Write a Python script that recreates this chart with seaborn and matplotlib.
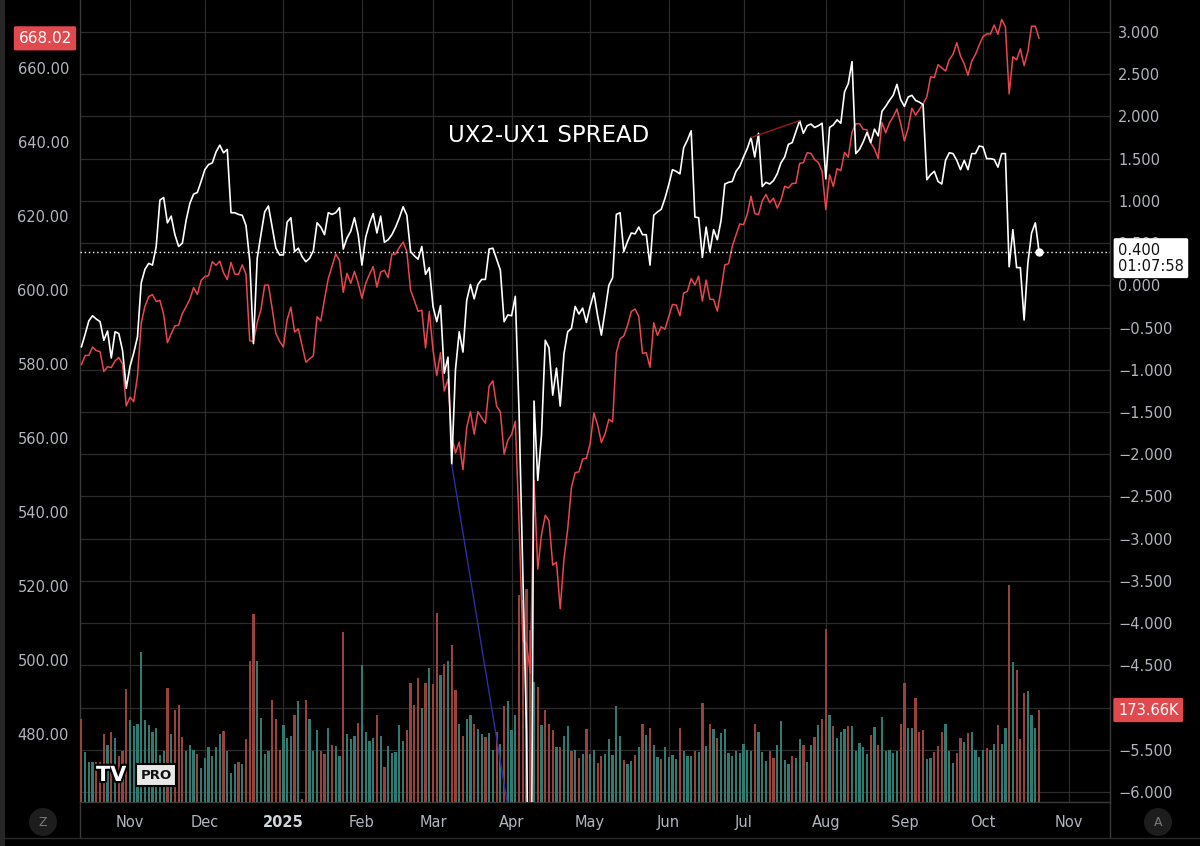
import matplotlib
matplotlib.use("Agg")
import matplotlib.pyplot as plt
from matplotlib.lines import Line2D
from matplotlib.patches import Ellipse, Rectangle
import matplotlib.patheffects as pe
import numpy as np
import pandas as pd
import seaborn as sns


# trading calendar of the spread symbol (Jan 9 2025 is a session here)
START_DATE = "2024-10-15"
LAST_DATE = "2025-10-22"
AXIS_END_DATE = "2025-11-14"
HOLIDAYS = [
    "2024-11-28", "2024-12-25", "2025-01-01", "2025-01-20", "2025-02-17",
    "2025-04-18", "2025-05-26", "2025-06-19", "2025-07-04", "2025-09-01",
]

# red overlay, left scale (NaN = no session for this symbol)
SPY_CLOSE = [
    579.78, 582.30, 582.35, 584.59, 583.63, 583.32, 577.99, 579.24, 579.04, 580.83,
    581.77, 580.01, 568.64, 571.04, 569.81, 576.70, 591.04, 595.61, 598.19, 598.76,
    596.90, 597.19, 593.35, 585.75, 588.15, 590.30, 590.50, 593.67, 595.51, 597.53,
    600.65, 598.83, 602.55, 603.63, 603.91, 607.66, 606.66, 607.81, 604.68, 602.80,
    607.46, 604.33, 604.21, 606.79, 604.29, 586.28, 586.10, 591.15, 594.69, 601.30,
    601.34, 595.01, 588.22, 586.08, 584.64, 591.95, 595.36, 588.63, 589.49, np.nan,
    580.49, 581.39, 582.19, 592.78, 591.64, 597.58, 603.05, 606.44, 609.75, 607.97,
    599.37, 604.52, 601.81, 605.04, 601.82, 597.77, 601.78, 604.22, 606.32, 600.77,
    604.85, 605.31, 603.36, 609.73, 609.70, 611.49, 612.93, 610.38, 599.94, 597.21,
    594.24, 594.54, 584.32, 594.18, 583.77, 576.86, 583.06, 572.71, 575.92, 560.58,
    555.92, 558.87, 551.42, 562.81, 567.15, 561.02, 567.13, 565.49, 563.98, 574.08,
    575.46, 568.59, 567.08, 555.66, 559.39, 560.97, 564.52, 536.70, 505.28, 504.38,
    496.48, 548.62, 524.58, 533.94, 539.12, 537.61, 525.66, 526.41, 513.88, 527.25,
    535.42, 546.69, 550.64, 550.85, 554.32, 554.54, 558.47, 566.76, 563.51, 558.80,
    561.15, 565.06, 564.34, 582.99, 586.84, 587.59, 590.46, 594.20, 594.85, 592.85,
    582.86, 583.09, 579.11, 591.15, 587.73, 590.05, 589.39, 592.71, 596.09, 595.93,
    593.05, 599.14, 599.68, 603.08, 601.36, 603.75, 597.00, 602.68, 597.53, 597.44,
    594.28, 600.15, 606.78, 607.12, 611.87, 614.91, 617.85, 617.65, 620.45, 625.34,
    620.68, 620.34, 624.06, 625.82, 623.62, 624.81, 622.14, 624.22, 628.04, 627.58,
    628.77, 628.86, 634.21, 634.42, 637.10, 636.94, 635.26, 634.46, 632.08, 621.72,
    631.17, 627.97, 632.78, 632.25, 637.18, 635.92, 642.69, 644.89, 644.95, 643.44,
    643.30, 639.81, 638.11, 635.55, 645.31, 642.47, 645.16, 646.79, 648.92, 645.05,
    640.27, 643.74, 649.12, 647.24, 648.83, 650.33, 652.21, 657.63, 657.41, 660.91,
    660.00, 659.18, 662.26, 663.70, 666.84, 663.21, 661.10, 658.05, 661.82, 663.68,
    666.18, 668.45, 669.22, 669.21, 671.61, 669.12, 673.11, 671.16, 653.02, 663.04,
    662.23, 665.17, 660.64, 664.39, 671.30, 671.29, 668.02,
]

# white main series, right scale
SPREAD = [
    -0.73, -0.58, -0.42, -0.36, -0.40, -0.43, -0.65, -0.54, -0.86, -0.55,
    -0.57, -0.77, -1.22, -0.96, -0.80, -0.61, 0.03, 0.19, 0.26, 0.24,
    0.46, 1.01, 1.04, 0.74, 0.82, 0.60, 0.46, 0.50, 0.77, 0.97,
    1.08, 1.10, 1.23, 1.37, 1.43, 1.45, 1.58, 1.66, 1.57, 1.61,
    0.86, 0.86, 0.84, 0.83, 0.71, 0.30, -0.69, 0.32, 0.60, 0.87,
    0.94, 0.69, 0.44, 0.36, 0.36, 0.75, 0.80, 0.40, 0.44, 0.34,
    0.28, 0.32, 0.41, 0.74, 0.69, 0.60, 0.86, 0.84, 0.86, 0.92,
    0.43, 0.56, 0.64, 0.80, 0.60, 0.24, 0.57, 0.73, 0.85, 0.62,
    0.82, 0.51, 0.54, 0.60, 0.69, 0.80, 0.93, 0.83, 0.40, 0.35,
    0.31, 0.46, 0.13, 0.21, -0.25, -0.43, -0.24, -1.04, -0.85, -2.12,
    -1.00, -0.55, -0.79, -0.18, 0.01, -0.16, 0.01, 0.07, 0.07, 0.43,
    0.44, 0.31, 0.18, -0.43, -0.35, -0.36, -0.13, -1.50, -3.40, -5.30,
    -9.50, -1.37, -2.31, -1.77, -0.65, -0.74, -1.30, -0.98, -1.43, -0.81,
    -0.55, -0.51, -0.25, -0.34, -0.27, -0.44, -0.25, -0.09, -0.36, -0.59,
    -0.30, 0.00, 0.09, 0.84, 0.86, 0.40, 0.52, 0.62, 0.61, 0.69,
    0.60, 0.60, 0.24, 0.83, 0.87, 0.90, 1.03, 1.19, 1.37, 1.35,
    1.32, 1.63, 1.72, 1.83, 0.81, 0.80, 0.33, 0.69, 0.40, 0.66,
    0.54, 0.77, 1.20, 1.22, 1.23, 1.35, 1.41, 1.52, 1.62, 1.75,
    1.52, 1.80, 1.17, 1.22, 1.20, 1.24, 1.32, 1.45, 1.52, 1.67,
    1.69, 1.82, 1.95, 1.80, 1.89, 1.91, 1.87, 1.89, 1.92, 1.26,
    1.87, 1.90, 1.96, 1.92, 2.29, 2.39, 2.65, 1.56, 1.61, 1.70,
    1.81, 1.69, 1.85, 1.77, 2.06, 2.12, 2.19, 2.25, 2.38, 2.20,
    2.12, 2.23, 2.25, 2.19, 2.17, 2.14, 1.25, 1.31, 1.35, 1.23,
    1.20, 1.48, 1.57, 1.56, 1.48, 1.37, 1.48, 1.37, 1.56, 1.56,
    1.65, 1.64, 1.50, 1.50, 1.49, 1.40, 1.56, 1.56, 0.22, 0.66,
    0.21, 0.21, -0.41, 0.26, 0.62, 0.74, 0.40,
]

# volume in thousands, bar side: R = down, T = up
VOLUME_K = [
    157, 94, 75, 75, 75, 75, 129, 107, 133, 120,
    87, 97, 214, 154, 143, 148, 283, 154, 145, 132,
    140, 88, 96, 216, 128, 173, 184, 123, 96, 108,
    99, 90, 65, 84, 103, 87, 104, 128, 134, 96,
    55, 72, 75, 72, 118, 267, 355, 266, 159, 90,
    96, 192, 156, 99, 145, 121, 124, 164, 191, 6,
    192, 157, 96, 135, 97, 91, 140, 107, 105, 86,
    320, 128, 118, 124, 150, 259, 133, 116, 120, 164,
    124, 66, 106, 92, 94, 146, 115, 135, 225, 184,
    235, 177, 225, 253, 222, 357, 239, 260, 266, 296,
    211, 148, 124, 157, 165, 148, 138, 128, 123, 130,
    99, 132, 109, 181, 190, 135, 164, 390, 381, 402,
    324, 226, 217, 145, 173, 148, 136, 104, 104, 125,
    143, 97, 99, 84, 91, 137, 91, 99, 74, 86,
    91, 118, 88, 181, 125, 79, 72, 77, 88, 104,
    147, 126, 140, 108, 85, 81, 104, 85, 88, 82,
    139, 97, 86, 87, 96, 94, 186, 106, 147, 138,
    121, 130, 137, 92, 86, 96, 92, 110, 99, 97,
    148, 133, 94, 78, 96, 84, 108, 152, 80, 71,
    87, 84, 118, 107, 75, 107, 123, 146, 156, 327,
    165, 143, 120, 133, 138, 143, 143, 97, 111, 103,
    91, 126, 142, 107, 161, 96, 99, 93, 96, 147,
    225, 139, 140, 196, 133, 135, 81, 84, 94, 105,
    133, 148, 97, 73, 93, 120, 114, 130, 133, 99,
    85, 99, 101, 99, 110, 146, 109, 140, 409, 264,
    250, 118, 206, 210, 165, 140, 173.66,
]
VOLUME_SIDE = list(
    "RTTTRRRTRT" "RRRTTTTTTT" "TTTRTRRRTT" "TRTTTTTTRT" "TTRTRRRTTT"
    "TRRRTTTRTR" "RTTTRRTRTT" "RTTTRTTTTR" "TRTTTTTRRR" "RTRTRRTRTR"
    "RTRTTRTTRT" "TRTRTTTRRR" "RTRTRRRTRT" "TRTRTRTTRR" "TTTTTRTTRT"
    "RTRTTRTTTT" "RTTTRTRTRT" "RTTTTTTTTT" "RTTTRRTTTT" "RTTRTTRTRR"
    "TRTTTRTTTT" "TRTRTTTTTR" "RTTRRRTTRR" "RTTTRRTRTT" "TTRTTRTTRT"
    "RRRTTTR"
)

SPREAD_TICKS = np.arange(-6.0, 3.01, 0.5)
SPY_TICKS = np.arange(480, 661, 20)
TITLE = "UX2-UX1 SPREAD"
COUNTDOWN = "01:07:58"

BG = "#000000"
GRID = "#2c2c2c"
SPINE = "#3a3a3a"
TICK = "#b2b5be"
RED_LINE = "#e8474e"
RED_TAG = "#e04a4f"
VOL_DOWN = "#98423b"
VOL_UP = "#2f7b71"

sns.set_theme(style="dark")
plt.rcParams["font.family"] = ["DejaVu Sans"]
plt.rcParams["axes.unicode_minus"] = False

dates = pd.bdate_range(START_DATE, AXIS_END_DATE, freq="C", holidays=HOLIDAYS)
n = len(SPREAD)
assert dates[n - 1] == pd.Timestamp(LAST_DATE)
months = dates.to_period("M")
month_pos = [i for i in range(1, len(dates)) if months[i] != months[i - 1]]
month_lab = [dates[i].strftime("%b") if dates[i].month != 1 else str(dates[i].year)
             for i in month_pos]

df = pd.DataFrame({
    "idx": np.arange(n),
    "spy": SPY_CLOSE,
    "spread": SPREAD,
    "vol": VOLUME_K,
    "side": VOLUME_SIDE,
})

W, H = 1200, 846
fig = plt.figure(figsize=(12, 8.46), dpi=100)
fig.patch.set_facecolor(BG)
ax = fig.add_axes([80 / W, 44 / H, 1030 / W, 802 / H])
ax.set_facecolor(BG)
ax_vol = ax.twinx()
ax_spy = ax.twinx()
ax_line = ax.twinx()

# volume pane
sns.barplot(data=df, x="idx", y="vol", hue="side", hue_order=["R", "T"],
            palette={"R": VOL_DOWN, "T": VOL_UP}, native_scale=True, dodge=False,
            width=0.6, errorbar=None, legend=False, saturation=1, linewidth=0, ax=ax_vol)

# price overlay
spy_df = df.dropna(subset=["spy"])
sns.lineplot(data=spy_df, x="idx", y="spy", color=RED_LINE, linewidth=1.1,
             estimator=None, sort=False, legend=False, ax=ax_spy)

# spread
sns.lineplot(data=df, x="idx", y="spread", color="white", linewidth=1.2,
             estimator=None, sort=False, legend=False, ax=ax_line)

last = df.iloc[-1]
ax_line.axhline(last["spread"], color="white", linestyle=(0, (1, 2)), linewidth=1.0)
ax_line.plot([last["idx"]], [last["spread"]], "o", color="white", markersize=5)

# user drawings
blue_start = 99
blue_slope = -0.2704
ax_line.plot([blue_start, blue_start + 17],
             [SPREAD[blue_start], SPREAD[blue_start] + 17 * blue_slope],
             color="#2a2fa6", linewidth=1.0)
ax_line.plot([179, 192], [SPREAD[179], SPREAD[192]], color="#8b1c1c", linewidth=1.1)
ax_line.text(98, 1.77, TITLE, color="white", fontsize=16.5, va="center", ha="left")

# scales
x_lo, x_hi = -0.366, 274.96
ax.set_xlim(x_lo, x_hi)
ax.set_ylim(-6.118, 3.379)
ax_line.set_ylim(-6.118, 3.379)
ax_spy.set_ylim(461.62, 678.38)
ax_vol.set_ylim(0, 1514)

for a in (ax_vol, ax_line):
    a.set_yticks([])
for a in (ax_vol, ax_spy, ax_line):
    a.set_xlabel("")
    a.set_ylabel("")
    a.grid(False)
    for s in a.spines.values():
        s.set_visible(False)

# the -5.000 label sits fully under the volume tag in the source view
spread_labels = [f"{v:.3f}".replace("-", "\u2212") if abs(v + 5.0) > 1e-9 else ""
                 for v in SPREAD_TICKS]
ax.yaxis.tick_right()
ax.set_yticks(SPREAD_TICKS, spread_labels)
ax.tick_params(axis="y", length=0, pad=6, labelsize=10.5, labelcolor=TICK,
               left=False, labelleft=False, right=False, labelright=True)
ax_spy.yaxis.tick_left()
ax_spy.set_yticks(SPY_TICKS, [f"{v:.2f}" for v in SPY_TICKS])
ax_spy.tick_params(axis="y", length=0, pad=8, labelsize=10.5, labelcolor=TICK,
                   left=False, right=False, labelleft=True, labelright=False)

ax.set_xticks(month_pos, month_lab)
ax.set_xlim(x_lo, x_hi)
ax.tick_params(axis="x", length=0, pad=9, labelsize=10.5, labelcolor=TICK)
for lbl in ax.get_xticklabels():
    if lbl.get_text().isdigit():
        lbl.set_fontweight("bold")
        lbl.set_color("#d1d4dc")
ax.grid(True, color=GRID, linewidth=0.9)
ax.set_axisbelow(True)
ax.spines["top"].set_visible(False)
for side in ("left", "right", "bottom"):
    ax.spines[side].set_color(SPINE)
    ax.spines[side].set_linewidth(1.0)

# last value tags
ax_spy.annotate(f"{SPY_CLOSE[-1]:.2f}", xy=(0, SPY_CLOSE[-1]),
                xycoords=("axes fraction", "data"), xytext=(-35, 0),
                textcoords="offset pixels", ha="center", va="center", color="white",
                fontsize=11, annotation_clip=False,
                bbox=dict(boxstyle="round,pad=0.3,rounding_size=0.12", fc=RED_TAG, ec="none"))
ax_line.annotate(f"{SPREAD[-1]:.3f}\n{COUNTDOWN}", xy=(1, SPREAD[-1]),
                 xycoords=("axes fraction", "data"), xytext=(8, 9),
                 textcoords="offset pixels", ha="left", va="top", color="#111111",
                 fontsize=10.5, linespacing=1.1, annotation_clip=False,
                 bbox=dict(boxstyle="round,pad=0.3,rounding_size=0.12", fc="white", ec="none"))
ax_vol.annotate(f"{VOLUME_K[-1]:.2f}K", xy=(1, VOLUME_K[-1]),
                xycoords=("axes fraction", "data"), xytext=(8, 0),
                textcoords="offset pixels", ha="left", va="center", color="white",
                fontsize=10.5, annotation_clip=False,
                bbox=dict(boxstyle="round,pad=0.32,rounding_size=0.12", fc=RED_TAG, ec="none"))

# chrome: separators, scale buttons, logo
for x0 in (80, 1110):
    fig.add_artist(Line2D([x0 / W, x0 / W], [1 - 838 / H, 44 / H], color=SPINE, lw=1.0))
fig.add_artist(Line2D([0, 1], [1 - 838 / H, 1 - 838 / H], color="#2a2a2a", lw=1.0))
fig.add_artist(Rectangle((0, 0), 5 / W, 1, transform=fig.transFigure,
                         fc="#262626", ec="none"))
for cx, letter in ((43, "Z"), (1158, "A")):
    fig.add_artist(Ellipse((cx / W, 1 - 822 / H), 28 / W, 28 / H,
                           transform=fig.transFigure, fc="#1d1d1d", ec="none"))
    fig.text(cx / W, 1 - 822 / H, letter, color="#7a7a7a", fontsize=9,
             ha="center", va="center")

logo_y = 1 - 775 / H
fig.text(96 / W, logo_y, "TV", color="white", fontsize=15, fontweight="heavy",
         ha="left", va="center",
         path_effects=[pe.withStroke(linewidth=3, foreground="black")])
fig.text(156 / W, logo_y, "PRO", color="#111111", fontsize=9.5, fontweight="bold",
         ha="center", va="center",
         bbox=dict(boxstyle="square,pad=0.35", fc="#e8e8e8", ec="black", lw=1.5))

fig.savefig("out.png", dpi=100, facecolor=BG)
